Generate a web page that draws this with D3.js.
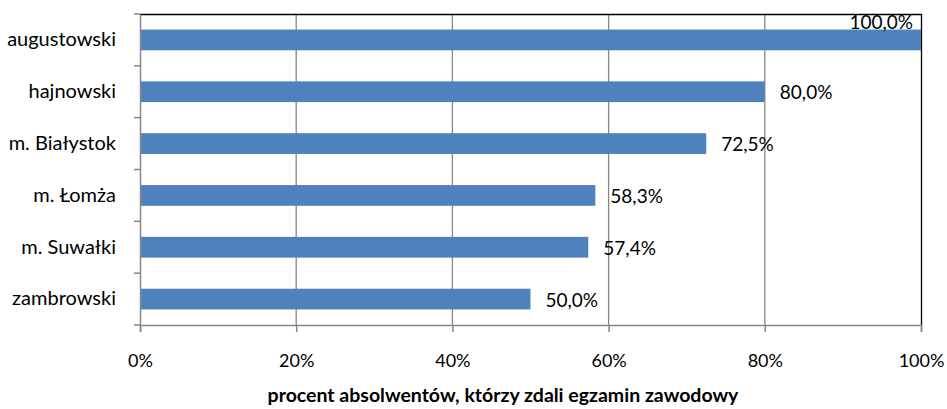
<!DOCTYPE html>
<html>
<head>
<meta charset="utf-8">
<script src="https://cdn.jsdelivr.net/npm/d3@7"></script>
<style>
  body { margin: 0; background: #fff; }
  svg { display: block; font-family: Lato, "Open Sans", sans-serif; }
</style>
</head>
<body>
<script>
// powiaty i wyniki
var categories = ["augustowski", "hajnowski", "m. Białystok", "m. Łomża", "m. Suwałki", "zambrowski"];
var values = [100.0, 80.0, 72.5, 58.3, 57.4, 50.0];
var xTicks = [0, 20, 40, 60, 80, 100];
var axisTitle = "procent absolwentów, którzy zdali egzamin zawodowy";

var W = 947, H = 409;
var margin = {top: 14, right: 26, bottom: 84, left: 140};
var w = W - margin.left - margin.right,
    h = H - margin.top - margin.bottom;

var svg = d3.select("body").append("svg")
    .attr("width", W)
    .attr("height", H);

var g = svg.append("g")
    .attr("transform", "translate(" + margin.left + "," + margin.top + ")");

var x = d3.scaleLinear().domain([0, 100]).range([0, w]);
var y = d3.scaleBand().domain(categories).range([0, h])
    .paddingInner(0.6).paddingOuter(0.3);

var fmt = function(v) { return v.toFixed(1).replace(".", ",") + "%"; };

// siatka
g.selectAll(".grid")
    .data(xTicks.slice(1, -1))
    .enter().append("line")
    .attr("x1", function(d) { return x(d); })
    .attr("x2", function(d) { return x(d); })
    .attr("y1", 0)
    .attr("y2", h)
    .attr("stroke", "#868686")
    .attr("stroke-width", 1.3);

// ramka górna i prawa
g.append("path")
    .attr("d", "M0,0.5H" + (w + 0.5) + "V" + h)
    .attr("fill", "none")
    .attr("stroke", "#000")
    .attr("stroke-width", 1.3);

// słupki
g.selectAll(".bar")
    .data(values)
    .enter().append("rect")
    .attr("x", 0)
    .attr("y", function(d, i) { return y(categories[i]); })
    .attr("width", function(d) { return x(d); })
    .attr("height", y.bandwidth())
    .attr("fill", "#4F81BD");

// etykiety wartości
g.selectAll(".lbl")
    .data(values)
    .enter().append("text")
    .attr("x", function(d) { return x(d) >= w - 10 ? x(d) - 8 : x(d) + 15; })
    .attr("y", function(d, i) {
        var yc = y(categories[i]) + y.bandwidth() / 2;
        return x(d) >= w - 10 ? yc - 18 : yc;
    })
    .attr("text-anchor", function(d) { return x(d) >= w - 10 ? "end" : "start"; })
    .attr("dominant-baseline", "central")
    .attr("font-size", 19)
    .attr("fill", "#000")
    .text(fmt);

// oś Y
var yAxis = g.append("g")
    .call(d3.axisLeft(y).tickSize(0).tickPadding(24));
yAxis.select(".domain").attr("stroke", "#868686").attr("stroke-width", 1.5);
yAxis.selectAll("text").attr("font-size", 20).attr("fill", "#000")
    .attr("font-family", "Lato, 'Open Sans', sans-serif");

// znaczniki między kategoriami
var bounds = d3.range(categories.length + 1).map(function(i) { return i * y.step(); });
g.selectAll(".ytick")
    .data(bounds)
    .enter().append("line")
    .attr("x1", -6).attr("x2", 0)
    .attr("y1", function(d) { return d; })
    .attr("y2", function(d) { return d; })
    .attr("stroke", "#868686")
    .attr("stroke-width", 1.5);

// oś X
var xAxis = g.append("g")
    .attr("transform", "translate(0," + h + ")")
    .call(d3.axisBottom(x).tickValues(xTicks).tickSize(7).tickPadding(22)
        .tickFormat(function(d) { return d + "%"; }));
xAxis.select(".domain").attr("stroke", "#868686").attr("stroke-width", 1.5);
xAxis.selectAll("line").attr("stroke", "#868686").attr("stroke-width", 1.5);
xAxis.selectAll("text").attr("font-size", 18).attr("fill", "#000")
    .attr("font-family", "Lato, 'Open Sans', sans-serif");

// tytuł osi
svg.append("text")
    .attr("x", 503)
    .attr("y", 402)
    .attr("text-anchor", "middle")
    .attr("font-size", 19.5)
    .attr("font-weight", "bold")
    .text(axisTitle);
</script>
</body>
</html>
